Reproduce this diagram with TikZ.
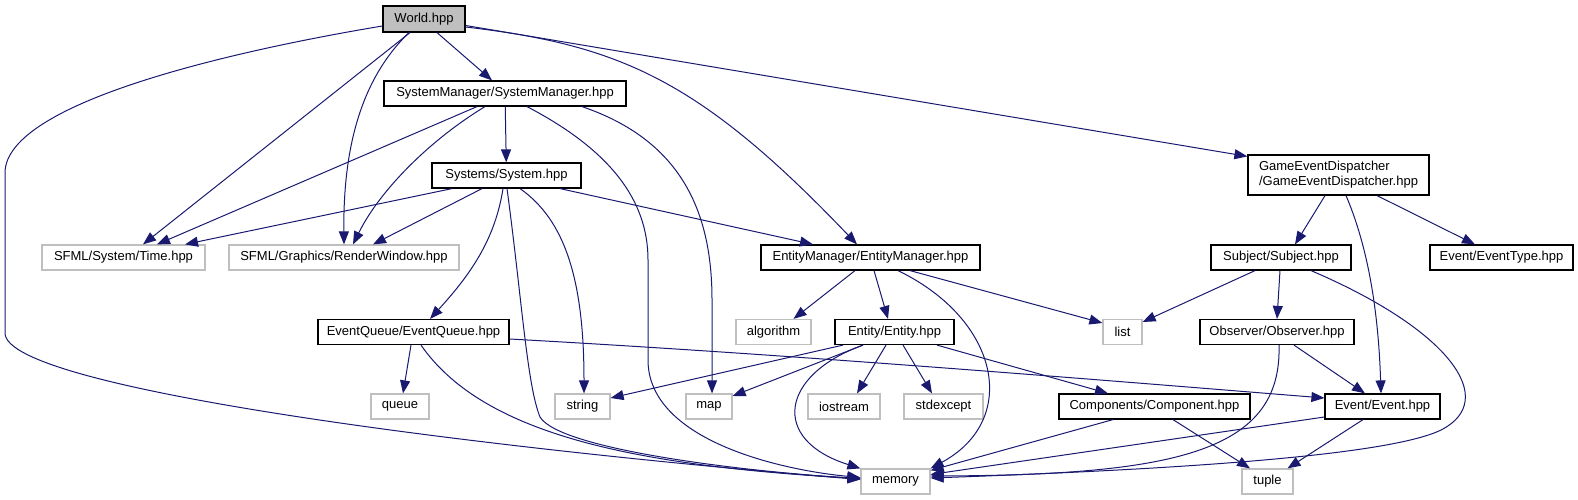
\documentclass[tikz,border=0pt]{standalone}
\usepackage{fontspec}
\setmainfont{Liberation Sans}
\usetikzlibrary{arrows.meta}

\definecolor{linkblue}{HTML}{191970}
\definecolor{boxgrey}{HTML}{BFBFBF}

\tikzset{
  hdr/.style={draw=black, line width=1.2pt, fill=white, inner sep=0pt,
    minimum width=#1, minimum height=25,
    font=\fontsize{13}{15}\selectfont},
  sys/.style={hdr=#1, draw=boxgrey},
  inc/.style={->, linkblue, line width=1pt},
}

\begin{document}
\begin{tikzpicture}[x=1pt, y=-1pt, >={Triangle[length=13pt, width=10pt]}]
    \useasboundingbox (0,0) rectangle (1578,500);

    % File principale
    \node[hdr=82, minimum height=26, fill=boxgrey] (world) at (424,19) {World.hpp};

    % Header del progetto
    \node[hdr=242] (sysmgr) at (505,93.5) {SystemManager/SystemManager.hpp};
    \node[hdr=149] (system) at (506.5,175.5) {Systems/System.hpp};
    \node[hdr=219] (entmgr) at (870.5,257.5) {EntityManager/EntityManager.hpp};
    \node[hdr=181, minimum height=40, align=left] (ged) at (1338.5,175)
        {GameEventDispatcher\\/GameEventDispatcher.hpp};
    \node[hdr=140] (subject) at (1281,257.5) {Subject/Subject.hpp};
    \node[hdr=143] (evtype) at (1501.5,257.5) {Event/EventType.hpp};
    \node[hdr=191] (evqueue) at (413.5,332) {EventQueue/EventQueue.hpp};
    \node[hdr=119] (entity) at (894.5,332) {Entity/Entity.hpp};
    \node[hdr=154] (observer) at (1277,332) {Observer/Observer.hpp};
    \node[hdr=191] (components) at (1154.5,406.5) {Components/Component.hpp};
    \node[hdr=115] (event) at (1382.5,406.5) {Event/Event.hpp};

    % Header di sistema
    \node[sys=163] (time) at (123.5,257.5) {SFML/System/Time.hpp};
    \node[sys=230] (render) at (344,257.5) {SFML/Graphics/RenderWindow.hpp};
    \node[sys=58] (queue) at (400,406.5) {queue};
    \node[sys=75] (algorithm) at (773.5,332) {algorithm};
    \node[sys=39] (list) at (1122.5,332) {list};
    \node[sys=55] (string) at (582.5,406.5) {string};
    \node[sys=46] (map) at (709,406.5) {map};
    \node[sys=72] (iostream) at (844,406.5) {iostream};
    \node[sys=79] (stdexcept) at (943.5,406.5) {stdexcept};
    \node[sys=69] (memory) at (895.5,481.5) {memory};
    \node[sys=51] (tuple) at (1267.5,481.5) {tuple};

    % Dipendenze di World.hpp
    \draw[inc] ([yshift=-7]world.west) .. controls (250,48) and (5,100) .. (5,173)
        -- (5,333) .. controls (5,390) and (500,450) .. ([yshift=2]memory.west);
    \draw[inc] ([xshift=-14]world.south) -- ([xshift=19.5]time.north);
    \draw[inc] ([xshift=-15]world.south) .. controls (360,80) and (343,150) .. (render.north);
    \draw[inc] ([xshift=13]world.south) -- ([xshift=-13]sysmgr.north);
    \draw[inc] ([yshift=-8]world.east) .. controls (620,45) and (700,80) .. ([xshift=-13.5]entmgr.north);
    \draw[inc] ([yshift=-6.5]world.east) -- ([yshift=-2]ged.north west);

    % SystemManager
    \draw[inc] ([xshift=-28]sysmgr.south) -- ([xshift=33.5]time.north);
    \draw[inc] ([xshift=-20]sysmgr.south) .. controls (430,140) and (380,190) .. ([xshift=9]render.north);
    \draw[inc] (sysmgr) -- (system);
    \draw[inc] ([xshift=22]sysmgr.south) .. controls (610,150) and (648,200) .. (648,260)
        -- (648,360) .. controls (648,440) and (780,470) .. ([yshift=4]memory.west);
    \draw[inc] ([xshift=77]sysmgr.south) .. controls (680,140) and (712,210) .. (712,300)
        -- ([xshift=3]map.north);

    % System
    \draw[inc] ([xshift=-54.5]system.south) -- ([xshift=61.5]time.north);
    \draw[inc] ([xshift=-24.5]system.south) -- ([xshift=29]render.north);
    \draw[inc] ([xshift=53.5]system.south) -- ([xshift=-57.5]entmgr.north);
    \draw[inc] ([xshift=-3.5]system.south) .. controls (495,240) and (470,275) .. ([xshift=16.5]evqueue.north);
    \draw[inc] ([xshift=0.5]system.south) .. controls (522,300) and (527,385) .. (540,417)
        .. controls (560,450) and (750,472) .. ([yshift=3]memory.west);
    \draw[inc] ([xshift=13.5]system.south) .. controls (565,220) and (584,280) .. ([xshift=1.5]string.north);

    % EventQueue
    \draw[inc] ([xshift=-2.5]evqueue.south) -- ([xshift=3]queue.north);
    \draw[inc] ([xshift=7.5]evqueue.south) .. controls (480,430) and (620,465) .. ([yshift=3]memory.west);
    \draw[inc] ([yshift=-7]evqueue.east) .. controls (800,355) and (1100,380) .. ([yshift=8.5]event.west);

    % EntityManager
    \draw[inc] ([xshift=-15.5]entmgr.south) -- ([xshift=20]algorithm.north);
    \draw[inc] ([xshift=3.5]entmgr.south) -- ([xshift=-6.5]entity.north);
    \draw[inc] ([xshift=27.5]entmgr.south) .. controls (1000,320) and (1020,420) .. (memory.north east);
    \draw[inc] ([xshift=39.5]entmgr.south) -- ([yshift=9]list.west);

    % Entity
    \draw[inc] ([xshift=-51.5]entity.south) -- ([yshift=8.5]string.east);
    \draw[inc] ([xshift=-31.5]entity.south) -- ([yshift=10.5]map.east);
    \draw[inc] ([xshift=-31.5]entity.south) .. controls (780,375) and (770,440) .. (memory.north west);
    \draw[inc] ([xshift=-8.5]entity.south) -- ([xshift=13]iostream.north);
    \draw[inc] ([xshift=8.5]entity.south) -- ([xshift=-11.5]stdexcept.north);
    \draw[inc] ([xshift=42.5]entity.south) -- ([xshift=-46.5]components.north);

    % GameEventDispatcher
    \draw[inc] ([xshift=-13.5]ged.south) -- ([xshift=14]subject.north);
    \draw[inc] ([xshift=7.5]ged.south) .. controls (1365,240) and (1378,300) .. ([xshift=-1.5]event.north);
    \draw[inc] ([xshift=38.5]ged.south) -- ([xshift=-26.5]evtype.north);

    % Subject
    \draw[inc] ([xshift=-26]subject.south) -- ([yshift=10]list.east);
    \draw[inc] ([xshift=-1]subject.south) -- (observer.north);
    \draw[inc] ([xshift=30]subject.south) .. controls (1450,330) and (1500,400) .. (1441,430)
        .. controls (1380,460) and (1100,472) .. ([yshift=3.5]memory.east);

    % Observer
    \draw[inc] ([xshift=2]observer.south) .. controls (1282,450) and (1180,475) .. ([yshift=5.5]memory.east);
    \draw[inc] ([xshift=17]observer.south) -- ([xshift=-17.5]event.north);

    % Component ed Event
    \draw[inc] ([xshift=-41.5]components.south) -- ([yshift=-2]memory.north east);
    \draw[inc] ([xshift=18.5]components.south) -- ([xshift=-17.5]tuple.north);
    \draw[inc] ([yshift=-10.5]event.west) -- ([yshift=7]memory.east);
    \draw[inc] ([xshift=-19.5]event.south) -- ([xshift=20]tuple.north);
\end{tikzpicture}
\end{document}
